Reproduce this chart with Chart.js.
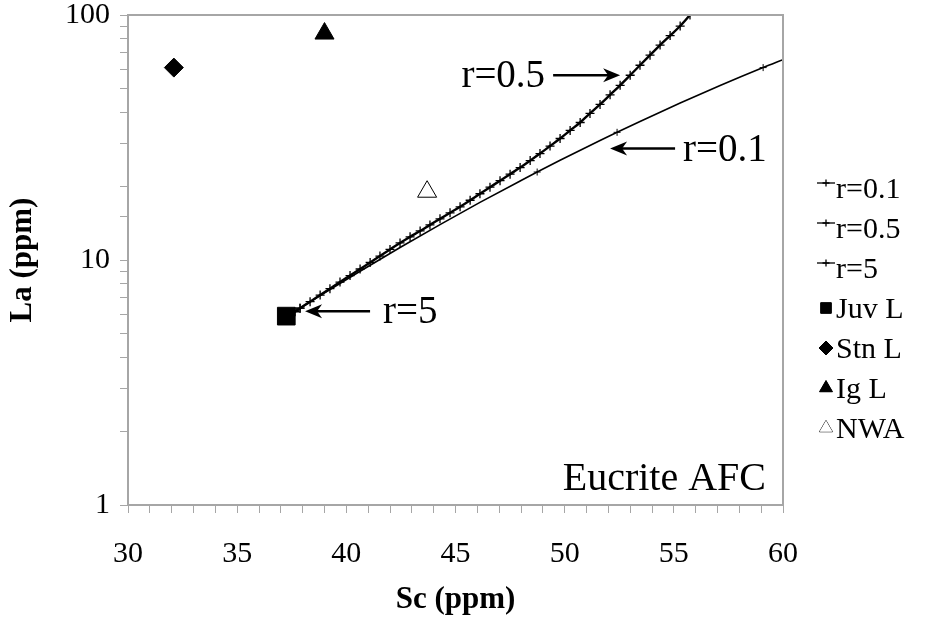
<!DOCTYPE html>
<html>
<head>
<meta charset="utf-8">
<script src="https://cdn.jsdelivr.net/npm/chart.js@4.4.1/dist/chart.umd.min.js"></script>
<style>
    html, body { margin: 0; padding: 0; background: #fff; }
    #wrap { width: 933px; height: 626px; }
</style>
</head>
<body>
<div id="wrap"><canvas id="afcChart" width="933" height="626"></canvas></div>
<script>
// AFC model curves (Sc vs La, ppm)
const r01Sc = [37.24, 38.80, 40.63, 42.46, 44.29, 46.12, 47.96, 48.74, 49.79, 51.62, 52.40, 53.45, 55.29, 57.12, 59.09, 60.00];
const r01La = [5.84, 7.15, 9.00, 11.25, 13.95, 17.18, 21.02, 22.86, 25.53, 30.74, 33.2, 36.78, 43.70, 51.51, 61.0, 65.7];
const r01Marked = [48.74, 52.40, 59.09];

const r05Sc = [37.24, 37.88, 38.34, 38.80, 39.25, 39.71, 40.17, 40.63, 41.09, 41.54, 42.00, 42.46, 42.92, 43.38, 43.83,
    44.29, 44.75, 45.21, 45.67, 46.12, 46.58, 47.04, 47.50, 47.96, 48.42, 48.87, 49.33, 49.79, 50.25, 50.71,
    51.16, 51.62, 52.08, 52.54, 53.00, 53.45, 53.91, 54.37, 54.83, 55.29, 55.74];
const r05La = [5.84, 6.36, 6.76, 7.19, 7.64, 8.13, 8.64, 9.19, 9.77, 10.38, 11.04, 11.74, 12.43, 13.14, 13.91,
    14.72, 15.58, 16.49, 17.53, 18.64, 19.82, 21.07, 22.41, 23.83, 25.45, 27.19, 29.18, 31.33, 33.79, 36.41,
    39.66, 43.17, 47.22, 51.65, 56.77, 62.37, 68.55, 75.36, 82.41, 90.15, 100];

const r5Sc = [37.24, 37.45, 37.65, 37.88];
const r5La = [5.84, 6.00, 6.15, 6.36];

// samples
const juvL = { sc: 37.25, la: 5.9 };
const stnL = { sc: 32.1, la: 61 };
const igL = { sc: 39.0, la: 84 };
const nwa = { sc: 43.7, la: 19 };

const xTickMajor = [30, 35, 40, 45, 50, 55, 60];
const yTickMajor = [1, 10, 100];

const SERIF = '"Liberation Serif", "DejaVu Serif", serif';

function toPoints(xs, ys) {
    return xs.map((x, i) => ({ x: x, y: ys[i] }));
}

function drawArrow(ctx, x1, y1, x2, y2) {
    // line from (x1,y1) to tip (x2,y2)
    const ang = Math.atan2(y2 - y1, x2 - x1);
    const len = 17, half = 7, notch = 5;
    ctx.save();
    ctx.strokeStyle = '#000';
    ctx.fillStyle = '#000';
    ctx.lineWidth = 2.4;
    ctx.beginPath();
    ctx.moveTo(x1, y1);
    ctx.lineTo(x2 - Math.cos(ang) * 8, y2 - Math.sin(ang) * 8);
    ctx.stroke();
    ctx.translate(x2, y2);
    ctx.rotate(ang);
    ctx.beginPath();
    ctx.moveTo(0, 0);
    ctx.lineTo(-len, -half);
    ctx.lineTo(-len + notch, 0);
    ctx.lineTo(-len, half);
    ctx.closePath();
    ctx.fill();
    ctx.restore();
}

const notes = [
    { text: 'r=0.5', sc: 52.54, la: 56.8, len: 67, gap: 8, side: 'left' },
    { text: 'r=0.1', sc: 52.08, la: 28.5, len: 65, gap: 8, side: 'right' },
    { text: 'r=5', sc: 38.11, la: 6.18, len: 65, gap: 13, side: 'right' }
];

const extrasPlugin = {
    id: 'extras',
    afterDraw(chart) {
        const ctx = chart.ctx;
        const area = chart.chartArea;
        const xs = chart.scales.x;
        const ys = chart.scales.y;

        // plot frame
        ctx.save();
        ctx.strokeStyle = '#a6a6a6';
        ctx.lineWidth = 2;
        ctx.strokeRect(area.left, area.top, area.right - area.left, area.bottom - area.top);
        ctx.restore();

        // arrows with labels
        ctx.save();
        ctx.font = '39px ' + SERIF;
        ctx.fillStyle = '#000';
        ctx.textBaseline = 'middle';
        notes.forEach(n => {
            const tx = xs.getPixelForValue(n.sc);
            const ty = ys.getPixelForValue(n.la);
            if (n.side === 'left') {
                drawArrow(ctx, tx - n.len, ty, tx, ty);
                ctx.textAlign = 'right';
                ctx.fillText(n.text, tx - n.len - n.gap, ty + 2);
            } else {
                drawArrow(ctx, tx + n.len, ty, tx, ty);
                ctx.textAlign = 'left';
                ctx.fillText(n.text, tx + n.len + n.gap, ty + 2);
            }
        });

        ctx.font = '40px ' + SERIF;
        ctx.textAlign = 'right';
        ctx.textBaseline = 'alphabetic';
        ctx.fillText('Eucrite AFC', area.right - 17, area.bottom - 15);
        ctx.restore();

        // legend
        const rowY = [188, 228, 268, 308, 348, 388, 428];
        const symX = 826;
        ctx.save();
        ctx.font = '30px ' + SERIF;
        ctx.fillStyle = '#000';
        ctx.textBaseline = 'middle';
        ctx.textAlign = 'left';
        chart.data.datasets.forEach((ds, i) => {
            const y = rowY[i];
            ctx.save();
            ctx.strokeStyle = '#000';
            ctx.fillStyle = ds.backgroundColor;
            if (ds.showLine) {
                ctx.lineWidth = 1.3;
                ctx.beginPath();
                ctx.moveTo(symX - 9, y - 5);
                ctx.lineTo(symX + 9, y - 5);
                ctx.stroke();
                Chart.helpers.drawPoint(ctx, { pointStyle: 'cross', radius: 3.5, rotation: 0, borderWidth: 1 }, symX, y - 5);
            } else {
                ctx.lineWidth = 1;
                Chart.helpers.drawPoint(ctx, { pointStyle: ds.pointStyle, radius: ds.legendRadius, rotation: 0, borderWidth: 1 }, symX, y);
                ctx.fill();
            }
            ctx.restore();
            ctx.fillText(ds.label, symX + 10, y + 2);
        });
        ctx.restore();
    }
};

new Chart(document.getElementById('afcChart'), {
    type: 'scatter',
    data: {
        datasets: [
            {
                label: 'r=0.1',
                data: toPoints(r01Sc, r01La),
                showLine: true,
                cubicInterpolationMode: 'monotone',
                borderColor: '#000',
                backgroundColor: '#000',
                borderWidth: 1.6,
                pointStyle: 'cross',
                pointRadius: ctx => r01Marked.includes(r01Sc[ctx.dataIndex]) ? 3.5 : 0,
                pointBorderWidth: 1
            },
            {
                label: 'r=0.5',
                data: toPoints(r05Sc, r05La),
                showLine: true,
                cubicInterpolationMode: 'monotone',
                borderColor: '#000',
                backgroundColor: '#000',
                borderWidth: 2.4,
                pointStyle: 'cross',
                pointRadius: 4.5,
                pointBorderWidth: 1.3
            },
            {
                label: 'r=5',
                data: toPoints(r5Sc, r5La),
                showLine: true,
                borderColor: '#000',
                backgroundColor: '#000',
                borderWidth: 2.4,
                pointStyle: 'cross',
                pointRadius: 4.5,
                pointBorderWidth: 1.3
            },
            {
                label: 'Juv L',
                data: [{ x: juvL.sc, y: juvL.la }],
                pointStyle: 'rect',
                pointRadius: 12.5,
                legendRadius: 7.5,
                backgroundColor: '#000',
                borderColor: '#000'
            },
            {
                label: 'Stn L',
                data: [{ x: stnL.sc, y: stnL.la }],
                pointStyle: 'rectRot',
                pointRadius: 9.5,
                legendRadius: 7,
                backgroundColor: '#000',
                borderColor: '#000'
            },
            {
                label: 'Ig L',
                data: [{ x: igL.sc, y: igL.la }],
                pointStyle: 'triangle',
                pointRadius: 11,
                legendRadius: 7.5,
                backgroundColor: '#000',
                borderColor: '#000'
            },
            {
                label: 'NWA',
                data: [{ x: nwa.sc, y: nwa.la }],
                pointStyle: 'triangle',
                pointRadius: 11,
                legendRadius: 7.5,
                backgroundColor: '#fff',
                borderColor: '#000',
                borderWidth: 1
            }
        ]
    },
    options: {
        responsive: false,
        animation: false,
        devicePixelRatio: 1,
        layout: { padding: { top: 15, right: 150, left: 0, bottom: 0 } },
        plugins: {
            legend: { display: false },
            tooltip: { enabled: false }
        },
        scales: {
            x: {
                type: 'linear',
                min: 30,
                max: 60,
                afterFit(scale) { scale.height = 121; scale.paddingLeft = 0; scale.paddingRight = 0; },
                border: { color: '#a6a6a6', width: 2 },
                grid: { drawOnChartArea: false, drawTicks: true, tickLength: 8, color: '#a6a6a6' },
                ticks: {
                    stepSize: 1,
                    autoSkip: false,
                    maxRotation: 0,
                    padding: 23,
                    color: '#000',
                    font: { family: SERIF, size: 30 },
                    callback: v => xTickMajor.includes(v) ? String(v) : ''
                },
                title: {
                    display: true,
                    text: 'Sc (ppm)',
                    color: '#000',
                    font: { family: SERIF, size: 31, weight: 'bold' },
                    padding: { top: 0, bottom: 7 }
                }
            },
            y: {
                type: 'logarithmic',
                min: 1,
                max: 100,
                afterFit(scale) { scale.width = 128; scale.paddingTop = 0; scale.paddingBottom = 0; },
                border: { color: '#a6a6a6', width: 2 },
                grid: { drawOnChartArea: false, drawTicks: true, tickLength: 8, color: '#a6a6a6' },
                ticks: {
                    autoSkip: false,
                    padding: 10,
                    color: '#000',
                    font: { family: SERIF, size: 30 },
                    callback: v => yTickMajor.includes(v) ? String(v) : ''
                },
                title: {
                    display: true,
                    text: 'La (ppm)',
                    color: '#000',
                    font: { family: SERIF, size: 31, weight: 'bold' },
                    padding: { top: 4, bottom: 0 }
                }
            }
        }
    },
    plugins: [extrasPlugin]
});
</script>
</body>
</html>
